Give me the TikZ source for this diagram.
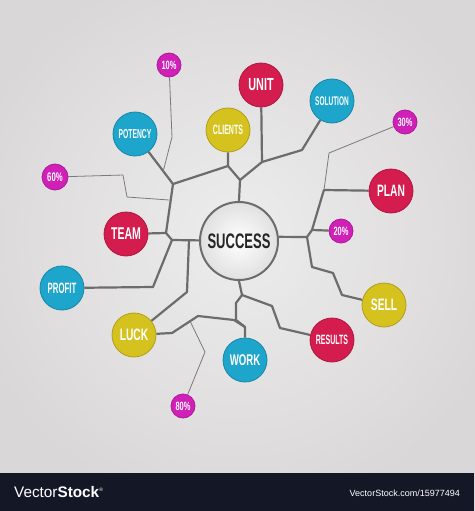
\documentclass[tikz,border=0pt]{standalone}
\usepackage{fontspec}
\setmainfont{Liberation Sans}
\newfontfamily\cond{Liberation Sans}[FakeStretch=0.62]
\newfontfamily\condx{Liberation Sans}[FakeStretch=0.52]
\definecolor{cred}{HTML}{D41C4E}
\definecolor{ccyan}{HTML}{1DA5CC}
\definecolor{cyel}{HTML}{D5C21F}
\definecolor{cmag}{HTML}{D020B8}
\definecolor{linegray}{HTML}{6C6C6C}
\definecolor{footer}{HTML}{141726}
\definecolor{bgin}{HTML}{EDEDED}
\definecolor{bgout}{HTML}{DAD7D8}
\pgfdeclarelayer{bg}
\pgfdeclarelayer{lines}
\pgfsetlayers{bg,lines,main}
\tikzset{
  ball/.style 2 args={circle, inner sep=0pt, minimum size=#2, fill=#1, draw=#1!82!black, line width=0.8pt, text=white},
  fs/.style={font=\cond\bfseries\fontsize{#1}{#1}\selectfont},
  fsx/.style={font=\condx\bfseries\fontsize{#1}{#1}\selectfont},
  conn/.style={draw=linegray, line width=2.2pt, line join=round},
  thinl/.style={draw=linegray!90, line width=0.8pt, line join=round},
}
\begin{document}
\begin{tikzpicture}[x=1pt,y=-1pt]
\useasboundingbox (0,0) rectangle (474,511);
\begin{pgfonlayer}{bg}
  \shade[inner color=bgin, outer color=bgout] (-40,-40) rectangle (514,513);
  \fill[footer] (0,473) rectangle (474,511);
\end{pgfonlayer}
% central node
\node[circle, inner sep=0pt, minimum size=78pt, draw=linegray, line width=2pt,
      inner color=white, outer color=white!88!black,
      font=\cond\bfseries\fontsize{21}{21}\selectfont, text=black!85] (success) at (239,241) {SUCCESS};
% bubbles
\node[ball={cred}{44pt}, fs=17.5] (unit) at (261,85) {UNIT};
\node[ball={ccyan}{44pt}, fsx=12.5] (solution) at (332,101) {SOLUTION};
\node[ball={cyel}{44pt}, fsx=13.5] (clients) at (228,130) {CLIENTS};
\node[ball={cmag}{24pt}, fs=12] (p30) at (405,122) {30\%};
\node[ball={cred}{44pt}, fs=16.5] (plan) at (391,191) {PLAN};
\node[ball={cmag}{24pt}, fs=12] (p10) at (169,65) {10\%};
\node[ball={ccyan}{44pt}, fsx=13] (potency) at (135,134) {POTENCY};
\node[ball={cmag}{26pt}, fs=12.5] (p60) at (55,177) {60\%};
\node[ball={cred}{44pt}, fs=17] (team) at (126,234) {TEAM};
\node[ball={ccyan}{44pt}, fsx=15] (profit) at (62,288) {PROFIT};
\node[ball={cyel}{44pt}, fs=16.5] (luck) at (134,335) {LUCK};
\node[ball={cmag}{24pt}, fs=12] (p80) at (183,406) {80\%};
\node[ball={ccyan}{44pt}, fs=15.5] (work) at (245,360) {WORK};
\node[ball={cred}{44pt}, fsx=13.5] (results) at (332,340) {RESULTS};
\node[ball={cyel}{44pt}, fs=16.5] (sell) at (384,305) {SELL};
\node[ball={cmag}{24pt}, fs=12] (p20) at (341,231) {20\%};
% junctions
\coordinate (jT) at (240,180);
\coordinate (jC) at (228,166);
\coordinate (jU) at (262,162);
\coordinate (jP) at (173,184);
\coordinate (jTe) at (166,233);
\coordinate (jL) at (172,240);
\coordinate (jLk) at (189,240);
\coordinate (jW) at (242,295);
\coordinate (jWk) at (245,327);
\coordinate (jR) at (307,237);
\coordinate (jR2) at (312,230);
\coordinate (jPl) at (324,190);
\coordinate (jM) at (190,321);
% connectors
\begin{pgfonlayer}{lines}
  \draw[conn] (success.north) -- (jT) -- (jC) -- (clients);
  \draw[conn] (jT) -- (jU) -- (unit);
  \draw[conn] (jU) -- (302,150) -- (solution);
  \draw[conn] (jC) -- (jP) -- (potency);
  \draw[conn] (jP) -- (jTe);
  \draw[conn] (team) -- (jTe) -- (jL) -- (success);
  \draw[conn] (profit) -- (153,287) -- (jL);
  \draw[conn] (jLk) -- (187,292) -- (luck);
  \draw[conn] (luck) -- (172,333) -- (198,316) -- (234,320) -- (jWk) -- (work);
  \draw[conn] (success.south) -- (jW) -- (236,303) -- (236,320) -- (jWk);
  \draw[conn] (jW) -- (272,306) -- (280,328) -- (results);
  \draw[conn] (success.6) -- (jR) -- (jR2) -- (p20);
  \draw[conn] (jR2) -- (323,193) -- (jPl) -- (plan);
  \draw[conn] (jR) -- (312,267) -- (333,273) -- (342,295) -- (sell);
  \draw[thinl] (jPl) -- (329,153) -- (p30);
  \draw[thinl] (p10) -- (172,137) -- (163,172);
  \draw[thinl] (p60) -- (123,175) -- (127,197) -- (169,200);
  \draw[thinl] (jM) -- (205,352) -- (p80);
\end{pgfonlayer}
% footer
\node[anchor=west, text=white, font=\fontsize{15.3}{15.3}\selectfont, inner sep=0pt] (brand) at (14,492)
  {Vector\textbf{Stock}\raisebox{0.8ex}{\fontsize{5}{5}\selectfont\textregistered}};
\node[anchor=east, text=white, font=\fontsize{9}{9}\selectfont, inner sep=0pt] (url) at (460,493)
  {VectorStock.com/15977494};
\end{tikzpicture}
\end{document}
